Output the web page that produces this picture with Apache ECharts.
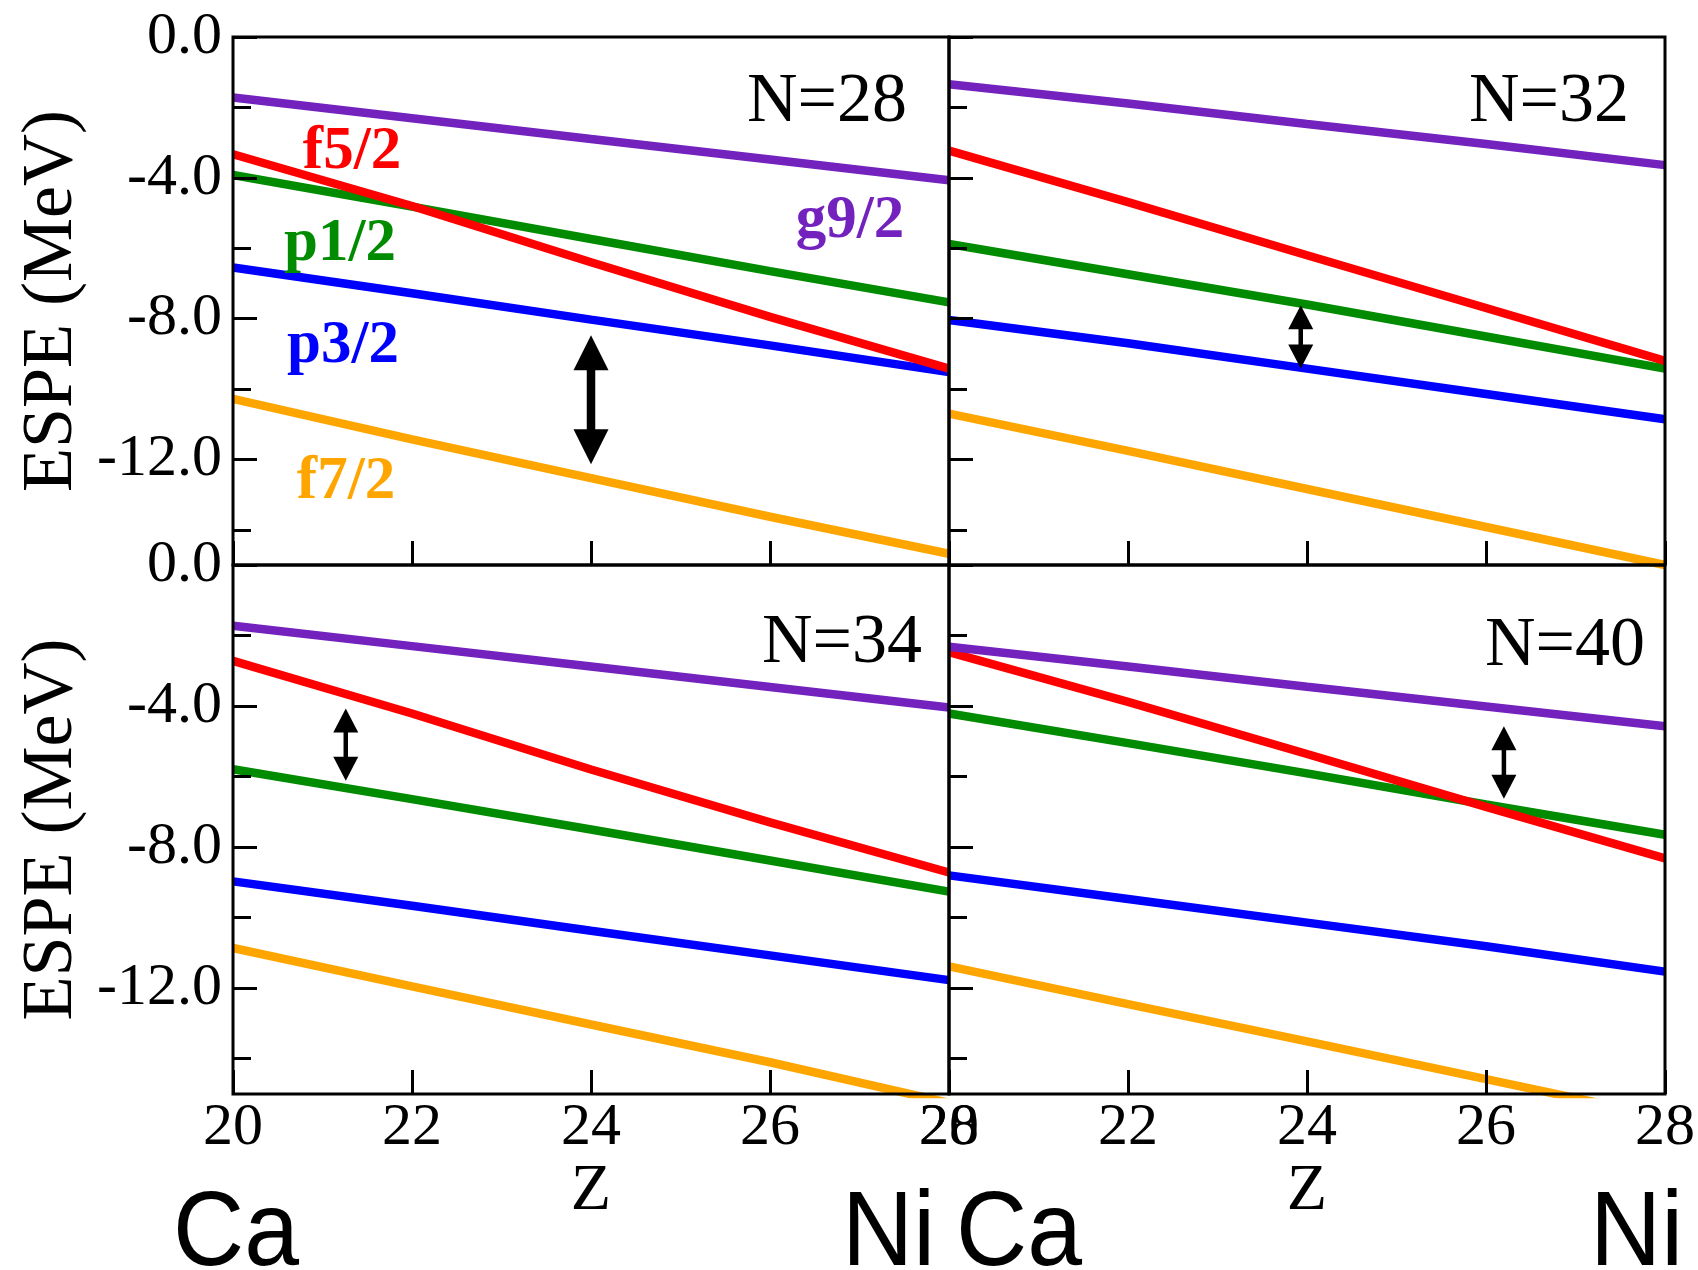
<!DOCTYPE html>
<html>
<head>
<meta charset="utf-8">
<title>ESPE vs Z</title>
<script src="https://cdn.jsdelivr.net/npm/echarts@6/dist/echarts.min.js"></script>
<style>
  html, body { margin: 0; padding: 0; background: #fff; }
  #chart { width: 1698px; height: 1270px; }
</style>
</head>
<body>
<div id="chart"></div>
<script>
// Proton number Z along the Ca -> Ni chain
const zValues = [20, 22, 24, 26, 28];

// Effective single-particle energies (MeV) per orbital, one set per neutron number
const n28_f7 = [-10.28, -11.43, -12.53, -13.63, -14.68];
const n28_p3 = [-6.55, -7.28, -8.03, -8.76, -9.52];
const n28_p1 = [-3.92, -4.82, -5.74, -6.65, -7.54];
const n28_f5 = [-3.33, -4.80, -6.40, -7.95, -9.42];
const n28_g9 = [-1.72, -2.31, -2.90, -3.48, -4.07];

const n32_f7 = [-10.70, -11.76, -12.84, -13.92, -15.00];
const n32_p3 = [-8.04, -8.70, -9.42, -10.14, -10.86];
const n32_p1 = [-5.88, -6.74, -7.60, -8.51, -9.42];
const n32_f5 = [-3.23, -4.69, -6.20, -7.70, -9.20];
const n32_g9 = [-1.34, -1.89, -2.47, -3.04, -3.64];

const n34_f7 = [-10.86, -11.95, -13.03, -14.10, -15.25];
const n34_p3 = [-8.97, -9.66, -10.37, -11.07, -11.77];
const n34_p1 = [-5.79, -6.64, -7.50, -8.38, -9.26];
const n34_f5 = [-2.72, -4.21, -5.80, -7.30, -8.72];
const n34_g9 = [-1.72, -2.30, -2.88, -3.46, -4.04];

const n40_f7 = [-11.38, -12.45, -13.51, -14.58, -15.65];
const n40_p3 = [-8.80, -9.47, -10.14, -10.81, -11.53];
const n40_p1 = [-4.21, -5.05, -5.91, -6.79, -7.65];
const n40_f5 = [-2.47, -3.88, -5.36, -6.86, -8.32];
const n40_g9 = [-2.32, -2.88, -3.45, -4.01, -4.57];

// Gap markers: [Z, upper end, lower end]
const gapN28 = [24.0, -8.47, -12.14];
const gapN32 = [23.93, -7.62, -9.42];
const gapN34 = [21.26, -4.07, -6.12];
const gapN40 = [26.2, -4.57, -6.63];

// Axis ticks
const yMajorTicks = [0, -4, -8, -12];
const yMinorTicks = [-2, -6, -10, -14];

const panelNames = ['N=28', 'N=32', 'N=34', 'N=40'];
const orbitalNames = ['f7/2', 'p3/2', 'p1/2', 'f5/2', 'g9/2'];

const SERIF = '"Liberation Serif", "Times New Roman", serif';
const SANS = '"Liberation Sans", Arial, sans-serif';

const orbitalColors = ['#FFA500', '#0000FF', '#008B00', '#FF0000', '#7322BE'];

const panelLevels = [
  [n28_f7, n28_p3, n28_p1, n28_f5, n28_g9],
  [n32_f7, n32_p3, n32_p1, n32_f5, n32_g9],
  [n34_f7, n34_p3, n34_p1, n34_f5, n34_g9],
  [n40_f7, n40_p3, n40_p1, n40_f5, n40_g9]
];
const panelGaps = [gapN28, gapN32, gapN34, gapN40];

// Layout of the 2x2 panels
const panelLayout = [
  { left: 233, top: 37, width: 716, height: 528, yLabels: true, xLabels: false },
  { left: 949, top: 37, width: 716, height: 528, yLabels: false, xLabels: false },
  { left: 233, top: 565, width: 716, height: 529, yLabels: true, xLabels: true },
  { left: 949, top: 565, width: 716, height: 529, yLabels: false, xLabels: true }
];
const arrowLook = [
  { headW: 35, headL: 35, shaft: 8.5 },
  { headW: 25, headL: 24, shaft: 4.5 },
  { headW: 25, headL: 24, shaft: 4.5 },
  { headW: 25, headL: 24, shaft: 4.5 }
];

const grids = [], xAxes = [], yAxes = [], series = [];

panelLayout.forEach((p, i) => {
  grids.push({
    left: p.left, top: p.top, width: p.width, height: p.height,
    show: true, z: 5, backgroundColor: 'transparent',
    borderColor: '#000', borderWidth: 3
  });

  xAxes.push({
    gridIndex: i, type: 'value', min: 20, max: 28, interval: 2, z: 5,
    position: 'bottom',
    axisLine: { show: false, onZero: false },
    axisTick: { inside: true, length: 24, lineStyle: { color: '#000', width: 3 } },
    axisLabel: {
      show: p.xLabels, margin: 4, fontSize: 60, fontFamily: SERIF, color: '#000',
      showMinLabel: true, showMaxLabel: true
    },
    splitLine: { show: false },
    name: p.xLabels ? 'Z' : '',
    nameLocation: 'middle', nameGap: 62,
    nameTextStyle: { fontSize: 66, fontFamily: SERIF, color: '#000' }
  });

  // major ticks + labels
  yAxes.push({
    gridIndex: i, type: 'value', min: -15, max: 0, position: 'left', z: 5,
    axisLine: { show: false, onZero: false },
    axisTick: { inside: true, length: 24, customValues: yMajorTicks,
                lineStyle: { color: '#000', width: 3 } },
    axisLabel: {
      show: p.yLabels, customValues: yMajorTicks, margin: 11,
      formatter: v => v.toFixed(1),
      fontSize: 60, fontFamily: SERIF, color: '#000'
    },
    splitLine: { show: false },
    name: p.yLabels ? 'ESPE (MeV)' : '',
    nameLocation: 'middle', nameGap: 145,
    nameTextStyle: { fontSize: 72, fontFamily: SERIF, color: '#000' }
  });
  // minor ticks
  yAxes.push({
    gridIndex: i, type: 'value', min: -15, max: 0, position: 'left', z: 5,
    axisLine: { show: false, onZero: false },
    axisTick: { inside: true, length: 18, customValues: yMinorTicks,
                lineStyle: { color: '#000', width: 3 } },
    axisLabel: { show: false },
    splitLine: { show: false }
  });

  panelLevels[i].forEach((levels, k) => {
    series.push({
      name: orbitalNames[k] + ' ' + panelNames[i],
      type: 'line',
      xAxisIndex: i, yAxisIndex: i * 2,
      data: zValues.map((z, j) => [z, levels[j]]),
      symbol: 'none', showSymbol: false, silent: true,
      lineStyle: { width: 8.5, color: orbitalColors[k], cap: 'butt' },
      itemStyle: { color: orbitalColors[k] },
      z: 2
    });
  });

  const look = arrowLook[i];
  series.push({
    name: 'gap ' + panelNames[i],
    type: 'custom',
    xAxisIndex: i, yAxisIndex: i * 2,
    clip: false, silent: true, z: 4,
    data: [panelGaps[i]],
    renderItem: (params, api) => {
      const top = api.coord([api.value(0), api.value(1)]);
      const bot = api.coord([api.value(0), api.value(2)]);
      const x = top[0];
      return {
        type: 'group',
        children: [
          { type: 'rect',
            shape: { x: x - look.shaft / 2, y: top[1] + look.headL - 1,
                     width: look.shaft, height: bot[1] - top[1] - 2 * look.headL + 2 },
            style: { fill: '#000' } },
          { type: 'polygon',
            shape: { points: [[x, top[1]], [x - look.headW / 2, top[1] + look.headL],
                              [x + look.headW / 2, top[1] + look.headL]] },
            style: { fill: '#000' } },
          { type: 'polygon',
            shape: { points: [[x, bot[1]], [x - look.headW / 2, bot[1] - look.headL],
                              [x + look.headW / 2, bot[1] - look.headL]] },
            style: { fill: '#000' } }
        ]
      };
    }
  });
});

function label(text, x, y, opts, extra) {
  return Object.assign({
    type: 'text', x: x, y: y, z: 10, silent: true,
    style: Object.assign({
      text: text, fill: '#000', fontFamily: SERIF, fontSize: 70,
      align: 'center', verticalAlign: 'middle'
    }, opts || {})
  }, extra || {});
}

const sansEnd = { fontFamily: SANS, fontSize: 106, align: 'left' };

const graphics = [
  // panel titles
  label(panelNames[0], 907, 103, { align: 'right' }),
  label(panelNames[1], 1629, 103, { align: 'right' }),
  label(panelNames[2], 922, 644, { align: 'right' }),
  label(panelNames[3], 1645, 647, { align: 'right' }),
  // orbital names
  label('f5/2', 352, 152, { fontSize: 61, fontWeight: 'bold', fill: orbitalColors[3] }),
  label('p1/2', 340, 244, { fontSize: 61, fontWeight: 'bold', fill: orbitalColors[2] }),
  label('p3/2', 343, 346, { fontSize: 61, fontWeight: 'bold', fill: orbitalColors[1] }),
  label('f7/2', 346, 482, { fontSize: 61, fontWeight: 'bold', fill: orbitalColors[0] }),
  label('g9/2', 850, 221, { fontSize: 61, fontWeight: 'bold', fill: orbitalColors[4] }),
  // chain end points
  label('Ca', 173, 1236, sansEnd, { scaleX: 0.93 }),
  label('Ni', 842, 1236, sansEnd, { scaleX: 0.93 }),
  label('Ca', 956, 1236, sansEnd, { scaleX: 0.93 }),
  label('Ni', 1590, 1236, sansEnd, { scaleX: 0.93 })
];

const chart = echarts.init(document.getElementById('chart'), null, { renderer: 'canvas' });
chart.setOption({
  animation: false,
  backgroundColor: '#fff',
  grid: grids,
  xAxis: xAxes,
  yAxis: yAxes,
  series: series,
  graphic: graphics
});
</script>
</body>
</html>
